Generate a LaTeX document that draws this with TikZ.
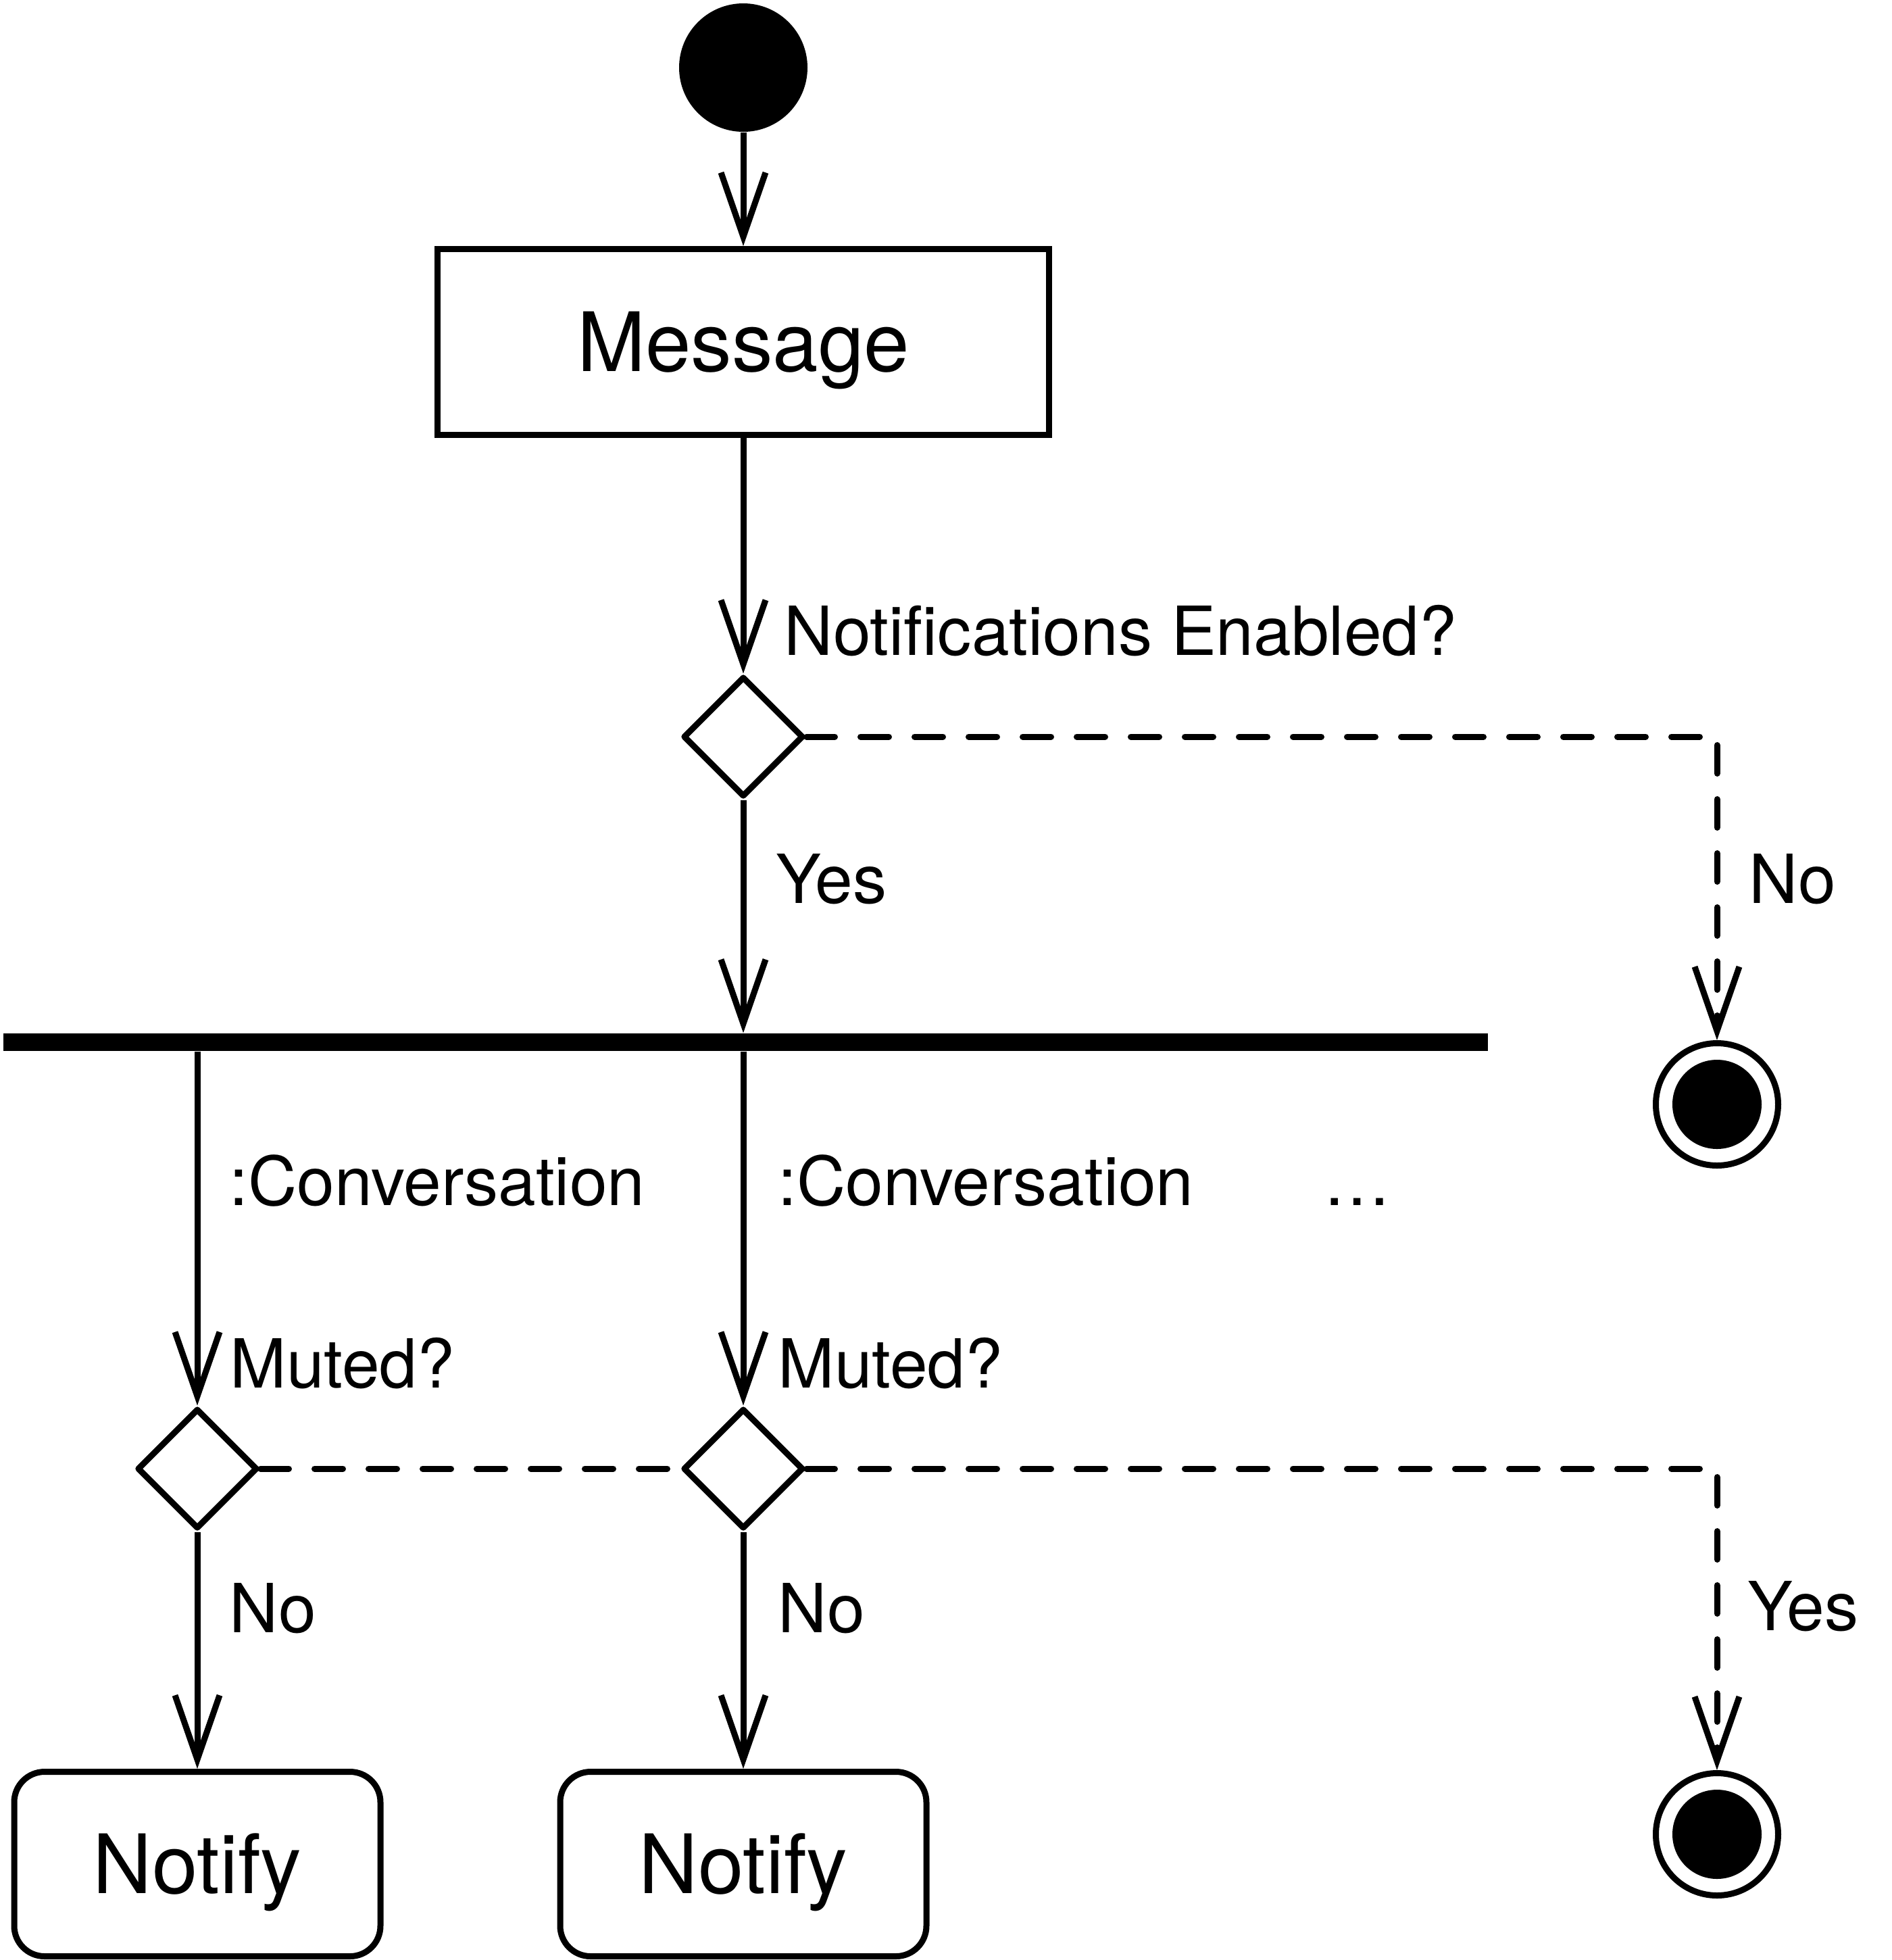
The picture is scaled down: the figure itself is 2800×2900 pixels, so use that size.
\documentclass[tikz,border=0pt]{standalone}
\usepackage{fontspec}
\setmainfont{TeX Gyre Heros}
\usepackage{tikz}
\usetikzlibrary{shapes, arrows.meta}
\tikzstyle{action} = [rectangle, draw, line width=0.9mm, text centered, minimum width=90.5mm, minimum height=27.5mm, font=\fontsize{34.5}{40}\selectfont, text height=8.7mm, text depth=0pt]
\tikzstyle{activity} = [action, rounded corners=4.5mm, minimum width=54.2mm, minimum height=27.3mm]
\tikzstyle{decision} = [diamond, draw, line width=0.9mm, line join=round, aspect=1, inner sep=0pt, minimum width=17.8mm, minimum height=17.8mm]
\tikzstyle{startstate} = [circle, fill, inner sep=0pt, minimum size=19mm]
\tikzstyle{endstate} = [circle, draw, line width=0.9mm, inner sep=0pt, minimum size=18.1mm, path picture={\fill (path picture bounding box.center) circle (6.6mm);}]
\tikzstyle{forkbar} = [rectangle, fill, inner sep=0pt, minimum width=219.7mm, minimum height=2.6mm]
\tikzstyle{guard} = [font=\fontsize{28.5}{34}\selectfont, anchor=base west, inner sep=0pt]
\tikzstyle{connector} = [draw, line width=0.9mm, -{Straight Barb[length=9.5mm, width=6.6mm]}]
\tikzstyle{alt} = [dash pattern=on 4.2mm off 3.8mm, line cap=round]

\begin{document}
\begin{tikzpicture}[x=0.1mm, y=-0.1mm]
\useasboundingbox (0,0) rectangle (2800,2900);

\node [startstate] at (1100,100) (start) {};
\node [action] at (1100,506) (message) {Message};

\node [decision] at (1100,1090) (decision1) {};
\node [endstate] at (2541,1634) (end_1) {};

\node [forkbar] at (1103.5,1542) (bar) {};

\node [decision] at (292,2173) (decision2_1) {};
\node [decision] at (1100,2173) (decision2_2) {};
\node [endstate] at (2541,2714) (end_2) {};

\node [activity] at (292,2758) (notify_1) {Notify};
\node [activity] at (1100,2758) (notify_2) {Notify};

\node [guard] at (1160,969) (text_1) {Notifications Enabled?};
\node [guard] at (1148,1336) (text_2) {Yes};
\node [guard] at (2588,1336) (text_3) {No};
\node [guard] at (339,1783) (text_4) {:Conversation};
\node [guard] at (1151,1783) (text_5) {:Conversation};
\node [guard] at (1958,1783) (text_6) {…};
\node [guard] at (340,2053) (text_7) {Muted?};
\node [guard] at (1151,2053) (text_8) {Muted?};
\node [guard] at (339,2415) (text_9) {No};
\node [guard] at (1151,2415) (text_10) {No};
\node [guard] at (2586,2412) (text_11) {Yes};

\path [connector] (start) -- (message);
\path [connector] (message) -- (decision1);
\path [connector, alt] (decision1.east) -| (end_1);
\path [connector] (decision1) -- (decision1 |- bar.north);

\path [connector] (bar.south -| decision2_1) -- (decision2_1);
\path [connector] (bar.south -| decision2_2) -- (decision2_2);

\path [draw, line width=0.9mm, alt] (decision2_1.east) -- (decision2_2.west);
\path [connector, alt] (decision2_2.east) -| (end_2);

\path [connector] (decision2_1) -- (notify_1);
\path [connector] (decision2_2) -- (notify_2);

\end{tikzpicture}
\end{document}
